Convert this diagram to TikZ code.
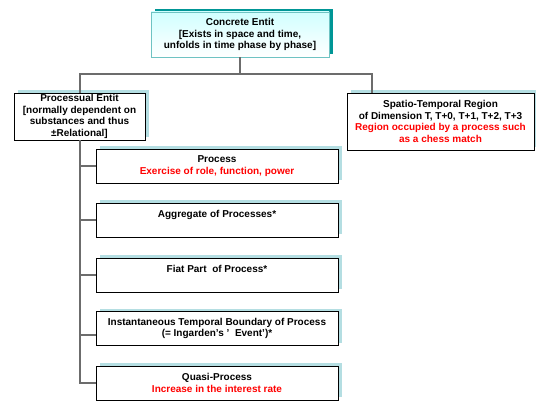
\documentclass[tikz,border=0pt]{standalone}
\usepackage{fontspec}
\setmainfont{Liberation Sans}
\usepackage{tikz}
\usetikzlibrary{shadows}

\definecolor{shadowblue}{RGB}{180,222,226}
\definecolor{darkteal}{RGB}{0,150,150}
\definecolor{lightteal}{RGB}{110,195,195}

\tikzset{
	box/.style={draw=black, line width=0.8pt, fill=white, align=center,
		font=\fontsize{10}{11.6}\selectfont\bfseries, inner sep=0.5pt,
		drop shadow={shadow xshift=4pt, shadow yshift=3pt, fill=shadowblue, opacity=1}},
	topbox/.style={box, draw=lightteal, top color=cyan!18!white, bottom color=white,
		drop shadow={shadow xshift=4pt, shadow yshift=3pt, fill=darkteal, opacity=1}},
	wire/.style={draw=gray!85!black, line width=2pt}
}

\begin{document}
\begin{tikzpicture}[x=1pt, y=-1pt]
\useasboundingbox (0,0) rectangle (536,401);

%top
\node[topbox, minimum width=178pt, minimum height=45pt] (concrete) at (240,34.5)
	{Concrete Entit\\{[}Exists in space and time,\\unfolds in time phase by phase]};

%second level
\node[box, minimum width=131pt, minimum height=47pt] (processual) at (79.5,116.5)
	{Processual Entit\\{[}normally dependent on\\substances and thus\\±Relational]};
\node[box, minimum width=187pt, minimum height=57pt] (spatio) at (440.5,121.5)
	{Spatio-Temporal Region\\of Dimension T, T+0, T+1, T+2, T+3\\
	\textcolor{red}{Region occupied by a process such}\\\textcolor{red}{as a chess match}};

%kinds of process
\node[box, minimum width=242pt, minimum height=34pt] (process) at (217,166)
	{Process\\\textcolor{red}{Exercise of role, function, power}};
\node[box, minimum width=242pt, minimum height=34pt] (aggregate) at (217,220)
	{Aggregate of Processes*\\~};
\node[box, minimum width=242pt, minimum height=34pt] (fiat) at (217,275)
	{Fiat Part \ of Process*\\~};
\node[box, minimum width=242pt, minimum height=34pt] (instant) at (217,328.5)
	{Instantaneous Temporal Boundary of Process\\(= Ingarden's ' \ Event')*};
\node[box, minimum width=242pt, minimum height=34pt] (quasi) at (217,383)
	{Quasi-Process\\\textcolor{red}{Increase in the interest rate}};

%connectors
\coordinate (bus) at (240,74);
\coordinate (instpin) at ([yshift=-6.5pt]instant.west);
\draw[wire] (concrete.south) -- (bus);
\draw[wire] (bus) -| (processual.north);
\draw[wire] (bus) -| ([xshift=25pt]spatio.north west);
\draw[wire] (processual.south) |- (quasi.west);
\foreach \n in {process, aggregate, fiat, instpin}
	\draw[wire] (processual.south |- \n) -- (\n);

\end{tikzpicture}
\end{document}
